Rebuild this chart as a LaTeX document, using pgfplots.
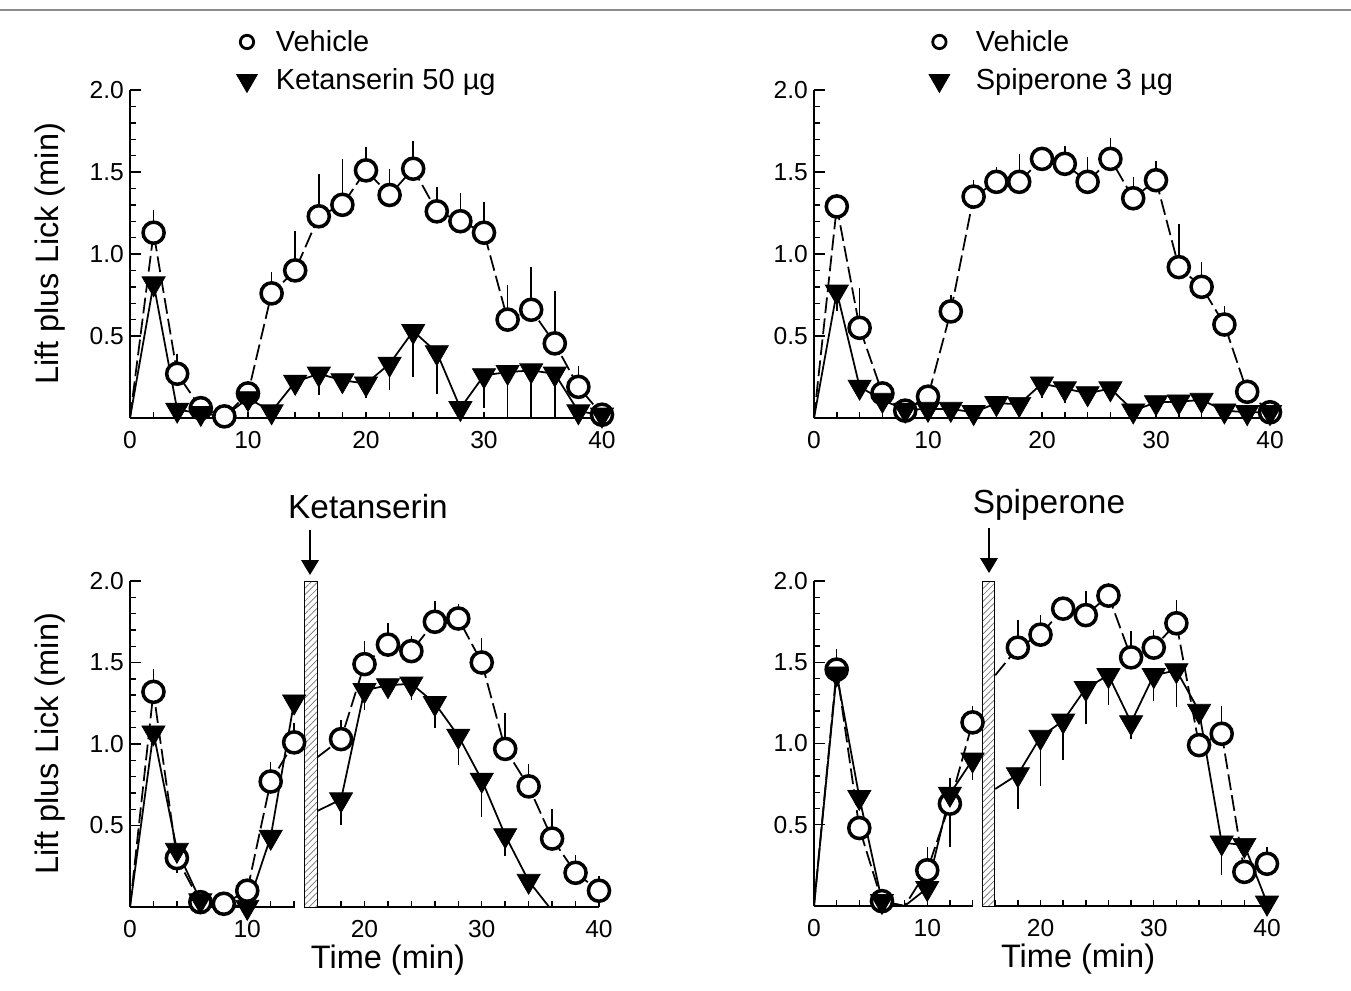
\documentclass[border=0pt]{standalone}
\usepackage{fontspec}
\setmainfont{Liberation Sans}
\usepackage{pgfplots}
\usepackage{pgfplotstable}
\pgfplotsset{compat=1.18}
\usetikzlibrary{patterns.meta,arrows.meta}

% top left: vehicle vs ketanserin 50 ug (x, mean, sem)
\pgfplotstableread{
x y e
2 1.13 0.14
4 0.27 0.12
6 0.06 0
8 0.01 0
10 0.15 0.04
12 0.76 0.13
14 0.90 0.24
16 1.23 0.26
18 1.30 0.28
20 1.51 0.14
22 1.36 0.16
24 1.52 0.17
26 1.26 0.15
28 1.20 0.17
30 1.13 0.19
32 0.60 0.21
34 0.66 0.26
36 0.455 0.32
38 0.19 0.13
40 0.02 0
}\tlveh
\pgfplotstableread{
x y e
2 0.82 0
4 0.05 0
6 0.03 0
10 0.12 0
12 0.04 0
14 0.22 0.08
16 0.27 0.13
18 0.23 0.085
20 0.21 0.09
22 0.33 0.16
24 0.53 0.28
26 0.40 0.255
28 0.06 0
30 0.26 0.20
32 0.28 0.28
34 0.29 0.29
36 0.27 0.27
38 0.04 0
40 0.02 0
}\tlket

% top right: vehicle vs spiperone 3 ug
\pgfplotstableread{
x y e
2 1.29 0
4 0.55 0.24
6 0.15 0
8 0.045 0
10 0.13 0
12 0.65 0.10
14 1.35 0.10
16 1.44 0.09
18 1.44 0.17
20 1.58 0.07
22 1.55 0.11
24 1.44 0.15
26 1.58 0.13
28 1.34 0.13
30 1.45 0.12
32 0.92 0.26
34 0.80 0.15
36 0.57 0.11
38 0.16 0
40 0.035 0
}\trveh
\pgfplotstableread{
x y e
2 0.77 0.12
4 0.19 0
6 0.11 0
8 0.05 0
10 0.055 0
12 0.055 0
14 0.035 0
16 0.09 0
18 0.085 0
20 0.21 0.09
22 0.18 0.09
24 0.15 0
26 0.18 0.085
28 0.045 0
30 0.095 0
32 0.10 0
34 0.11 0
36 0.045 0
38 0.035 0
40 0.035 0
}\trspi

% bottom left: ketanserin injected at 15 min
\pgfplotstableread{
x y e
2 1.32 0.14
4 0.30 0
6 0.03 0
8 0.02 0
10 0.10 0
12 0.77 0.12
14 1.01 0.12
18 1.03 0.12
20 1.49 0.14
22 1.61 0.13
24 1.57 0.09
26 1.75 0.13
28 1.77 0.09
30 1.50 0.15
32 0.97 0.22
34 0.74 0.135
36 0.42 0.18
38 0.21 0.11
40 0.10 0.09
}\blveh
\pgfplotstableread{
x y e
2 1.07 0
4 0.35 0.14
6 0.04 0
10 0.00 0
12 0.43 0.08
14 1.26 0
18 0.66 0.155
20 1.33 0.12
22 1.36 0.06
24 1.37 0.10
26 1.25 0.15
28 1.05 0.18
30 0.78 0.23
32 0.44 0.13
34 0.16 0.06
}\blket

% bottom right: spiperone injected at 15 min
\pgfplotstableread{
x y e
2 1.455 0.125
4 0.48 0
6 0.03 0
10 0.22 0.145
12 0.63 0.155
14 1.13 0.10
18 1.59 0.17
20 1.67 0.12
22 1.83 0
24 1.79 0.15
26 1.91 0.08
28 1.53 0.16
30 1.59 0.11
32 1.74 0.145
34 0.99 0
36 1.06 0.17
38 0.21 0
40 0.26 0.105
}\brveh
\pgfplotstableread{
x y e
2 1.43 0
4 0.67 0
6 0.03 0
10 0.11 0
12 0.69 0.325
14 0.90 0.125
18 0.81 0.215
20 1.04 0.30
22 1.14 0.24
24 1.34 0.22
26 1.42 0.18
28 1.13 0.10
30 1.42 0.16
32 1.45 0.225
34 1.20 0
36 0.39 0.20
38 0.375 0
40 0.02 0
}\brspi

\pgfplotsset{
  panel/.style={
    scale only axis,
    xmin=0, xmax=40, ymin=0, ymax=2,
    axis lines=left,
    axis line style={-, line width=1.1pt},
    clip=false,
    tick align=inside,
    xtick={0,10,20,30,40},
    minor xtick={0,2,...,40},
    ytick={0.5,1,1.5,2},
    minor y tick num=4,
    major tick length=0.22cm,
    minor tick length=0.12cm,
    every tick/.style={black, line width=0.8pt},
    every major x tick/.append style={draw=none},
    yticklabel style={/pgf/number format/.cd, fixed, fixed zerofill, precision=1},
    /pgf/number format/assume math mode=true,
    tick label style={font=\fontsize{14}{16}\selectfont},
    xticklabel style={yshift=-4pt},
    every axis y label/.style={at={(axis description cs:-0.17,0.5)}, rotate=90,
      anchor=center, font=\fontsize{18.5}{21}\selectfont},
    ylabel={Lift plus Lick (min)},
    legend style={draw=none, fill=none, font=\fontsize{16.5}{19}\selectfont,
      legend cell align=left, row sep=4.5pt, anchor=north west,
      /tikz/every odd column/.append style={column sep=0.3cm}},
  },
  xlab/.style={xlabel={Time (min)},
    every axis x label/.style={at={(axis description cs:#1,-0.163)}, anchor=center,
      font=\fontsize{18.5}{21}\selectfont}},
  veh line/.style={black, line width=1pt, dash pattern=on 9pt off 3pt, forget plot},
  drug line/.style={black, line width=1pt, forget plot},
  veh marks/.style={only marks, forget plot, mark=*, mark size=6pt,
    mark options={fill=white, draw=black, line width=2pt, solid},
    error bars/.cd, y dir=plus, y explicit, error mark=none,
    error bar style={black, line width=0.8pt, solid}},
  drug marks/.style={only marks, forget plot, mark=triangle*, mark size=7.6pt,
    mark options={rotate=180, fill=black, draw=black, solid},
    error bars/.cd, y dir=minus, y explicit, error mark=none,
    error bar style={black, line width=0.8pt, solid}},
  veh key/.style={only marks, mark=*, mark size=3.8pt,
    mark options={fill=white, draw=black, line width=1.6pt}},
  drug key/.style={only marks, mark=triangle*, mark size=6.8pt,
    mark options={rotate=180, fill=black}},
}

\begin{document}
\begin{tikzpicture}
\useasboundingbox (0,0) rectangle (27.02,-19.8);
\draw[black!45, line width=0.6pt] (0,-0.2) -- (27.02,-0.2);

% ---------- top left ----------
\begin{axis}[panel, at={(2.60cm,-8.36cm)}, anchor=south west, width=9.44cm, height=6.56cm,
  legend style={at={(axis description cs:0.214,1.205)}}]
\addlegendimage{veh key}
\addlegendentry{Vehicle}
\addlegendimage{drug key}
\addlegendentry{Ketanserin 50 µg}
\addplot[veh line] coordinates {(0,0) (2,1.13) (4,0.27) (6,0.06) (8,0.01) (10,0.15)
  (12,0.76) (14,0.90) (16,1.23) (18,1.30) (20,1.51) (22,1.36) (24,1.52) (26,1.26)
  (28,1.20) (30,1.13) (32,0.60) (34,0.66) (36,0.455) (38,0.19) (40,0.02)};
\addplot[drug line] coordinates {(0,0) (2,0.82) (4,0.05) (6,0.03) (8,0.01) (10,0.12)
  (12,0.04) (14,0.22) (16,0.27) (18,0.23) (20,0.21) (22,0.33) (24,0.53) (26,0.40)
  (28,0.06) (30,0.26) (32,0.28) (34,0.29) (36,0.27) (38,0.04) (40,0.02)};
\addplot[veh marks] table[x=x, y=y, y error=e] {\tlveh};
\addplot[drug marks] table[x=x, y=y, y error=e] {\tlket};
\end{axis}

% ---------- top right ----------
\begin{axis}[panel, at={(16.28cm,-8.36cm)}, anchor=south west, width=9.12cm, height=6.56cm,
  ylabel={}, legend style={at={(axis description cs:0.24,1.205)},
  /tikz/every odd column/.append style={column sep=0.45cm}}]
\addlegendimage{veh key}
\addlegendentry{Vehicle}
\addlegendimage{drug key}
\addlegendentry{Spiperone 3 µg}
\addplot[veh line] coordinates {(0,0) (2,1.29) (4,0.55) (6,0.15) (8,0.045) (10,0.13)
  (12,0.65) (14,1.35) (16,1.44) (18,1.44) (20,1.58) (22,1.55) (24,1.44) (26,1.58)
  (28,1.34) (30,1.45) (32,0.92) (34,0.80) (36,0.57) (38,0.16) (40,0.035)};
\addplot[drug line] coordinates {(0,0) (2,0.77) (4,0.19) (6,0.11) (8,0.05) (10,0.055)
  (12,0.055) (14,0.035) (16,0.09) (18,0.085) (20,0.21) (22,0.18) (24,0.15) (26,0.18)
  (28,0.045) (30,0.095) (32,0.10) (34,0.11) (36,0.045) (38,0.035) (40,0.035)};
\addplot[veh marks] table[x=x, y=y, y error=e] {\trveh};
\addplot[drug marks] table[x=x, y=y, y error=e] {\trspi};
\end{axis}

% ---------- bottom left ----------
\begin{axis}[panel, at={(2.60cm,-18.14cm)}, anchor=south west, width=9.38cm, height=6.52cm,
  xlab=0.55]
\fill[white] (axis cs:14.1,-0.03) rectangle (axis cs:14.9,0.03);
\fill[white] (axis cs:14.9,0) rectangle (axis cs:16,2);
\draw[line width=0.5pt, pattern={Lines[angle=45, distance=2.6pt, line width=0.4pt]},
  pattern color=black!55] (axis cs:14.9,0) rectangle (axis cs:16,2);
\addplot[veh line] coordinates {(0,0) (2,1.32) (4,0.30) (6,0.03) (8,0.02) (10,0.10)
  (12,0.77) (14,1.01)};
\addplot[veh line] coordinates {(16,0.92) (18,1.03) (20,1.49) (22,1.61) (24,1.57)
  (26,1.75) (28,1.77) (30,1.50) (32,0.97) (34,0.74) (36,0.42) (38,0.21) (40,0.10)};
\addplot[drug line] coordinates {(0,0) (2,1.07) (4,0.35) (6,0.04) (8,0.02) (10,0.00)
  (12,0.43) (14,1.26)};
\addplot[drug line] coordinates {(16,0.59) (18,0.66) (20,1.33) (22,1.36) (24,1.37)
  (26,1.25) (28,1.05) (30,0.78) (32,0.44) (34,0.16) (35.75,0)};
\addplot[veh marks] table[x=x, y=y, y error=e] {\blveh};
\addplot[drug marks] table[x=x, y=y, y error=e] {\blket};
\end{axis}

% ---------- bottom right ----------
\begin{axis}[panel, at={(16.28cm,-18.12cm)}, anchor=south west, width=9.06cm, height=6.50cm,
  ylabel={}, xlab=0.583]
\fill[white] (axis cs:14.0,-0.03) rectangle (axis cs:14.85,0.03);
\fill[white] (axis cs:14.85,0) rectangle (axis cs:15.96,2);
\draw[line width=0.5pt, pattern={Lines[angle=45, distance=2.6pt, line width=0.4pt]},
  pattern color=black!55] (axis cs:14.85,0) rectangle (axis cs:15.96,2);
\addplot[veh line] coordinates {(0,0) (2,1.455) (4,0.48) (6,0.03) (8,0) (10,0.22)
  (12,0.63) (14,1.13)};
\addplot[veh line] coordinates {(16,1.42) (18,1.59) (20,1.67) (22,1.83) (24,1.79)
  (26,1.91) (28,1.53) (30,1.59) (32,1.74) (34,0.99) (36,1.06) (38,0.21) (40,0.26)};
\addplot[drug line] coordinates {(0,0) (2,1.43) (4,0.67) (6,0.03) (8,0) (10,0.11)
  (12,0.69) (14,0.90)};
\addplot[drug line] coordinates {(16,0.72) (18,0.81) (20,1.04) (22,1.14) (24,1.34)
  (26,1.42) (28,1.13) (30,1.42) (32,1.45) (34,1.20) (36,0.39) (38,0.375) (40,0.02)};
\addplot[veh marks] table[x=x, y=y, y error=e] {\brveh};
\addplot[drug marks] table[x=x, y=y, y error=e] {\brspi};
\end{axis}

% injection markers
\node[font=\fontsize{19}{22}\selectfont] at (7.36,-10.14) {Ketanserin};
\draw[line width=0.9pt, -{Triangle[length=8.5pt, width=10pt]}] (6.20,-10.60) -- (6.20,-11.50);
\node[font=\fontsize{19}{22}\selectfont] at (20.98,-10.10) {Spiperone};
\draw[line width=0.9pt, -{Triangle[length=8.5pt, width=10pt]}] (19.78,-10.56) -- (19.78,-11.46);
\end{tikzpicture}
\end{document}
